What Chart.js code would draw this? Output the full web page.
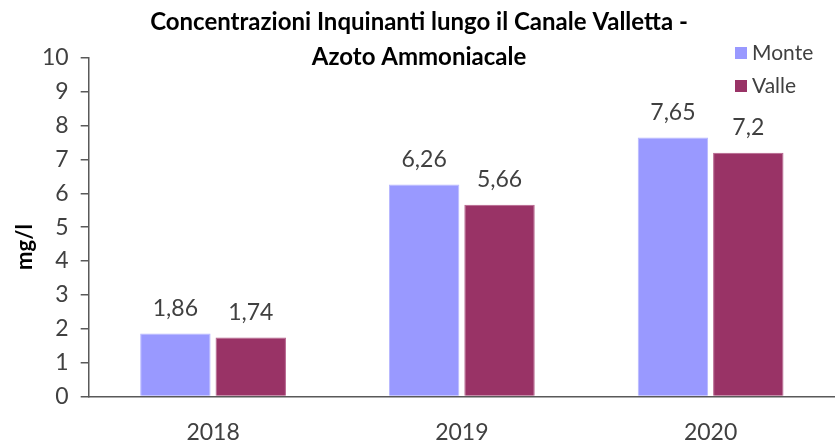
<!DOCTYPE html>
<html>
<head>
<meta charset="utf-8">
<script src="https://cdn.jsdelivr.net/npm/chart.js@4"></script>
<style>
  html, body { margin: 0; padding: 0; background: #fff; }
  #wrap { width: 835px; height: 441px; }
</style>
</head>
<body>
<div id="wrap"><canvas id="graphic"></canvas></div>
<script>
// DATI
const years = ['2018', '2019', '2020'];
const monte = [1.86, 6.26, 7.65];
const valle = [1.74, 5.66, 7.2];
const titleLines = ['Concentrazioni Inquinanti lungo il Canale Valletta -', 'Azoto Ammoniacale'];
const yTitle = 'mg/l';

const FONT = 'Lato';
const TEXT = '#404040';

// titolo, legenda, etichette
const extras = {
  id: 'extras',
  afterDraw(chart) {
    const ctx = chart.ctx;
    ctx.save();
    ctx.fillStyle = '#000';
    ctx.textAlign = 'center';
    ctx.textBaseline = 'middle';
    ctx.font = 'bold 24px ' + FONT;
    ctx.fillText(titleLines[0], 419, 22);
    ctx.fillText(titleLines[1], 419, 57);

    // asse y
    ctx.save();
    ctx.translate(25, 247);
    ctx.rotate(-Math.PI / 2);
    ctx.font = 'bold 22px ' + FONT;
    ctx.fillText(yTitle, 0, 0);
    ctx.restore();

    // legenda
    ctx.textAlign = 'left';
    ctx.font = '21px ' + FONT;
    chart.data.datasets.forEach((ds, i) => {
      const y = 53 + i * 33;
      ctx.fillStyle = ds.backgroundColor;
      ctx.fillRect(735, y - 6, 12, 12);
      ctx.fillStyle = TEXT;
      ctx.fillText(ds.label, 752, y);
    });

    // valori sulle barre
    ctx.textAlign = 'center';
    ctx.font = '23px ' + FONT;
    ctx.fillStyle = TEXT;
    chart.data.datasets.forEach((ds, i) => {
      chart.getDatasetMeta(i).data.forEach((bar, j) => {
        ctx.fillText(String(ds.data[j]).replace('.', ','), bar.x, bar.y - 25);
      });
    });
    ctx.restore();
  }
};

const data = {
  labels: years,
  datasets: [{
    label: 'Monte',
    data: monte,
    backgroundColor: '#9999FF',
    borderColor: '#b8b8ff',
    borderWidth: 1
  }, {
    label: 'Valle',
    data: valle,
    backgroundColor: '#993366',
    borderColor: '#b5608a',
    borderWidth: 1
  }]
};

const config = {
  type: 'bar',
  data,
  options: {
    responsive: true,
    maintainAspectRatio: false,
    animation: false,
    categoryPercentage: 0.606,
    barPercentage: 0.934,
    layout: {
      padding: { top: 58, left: 30, right: -6, bottom: -19 }
    },
    plugins: {
      legend: { display: false },
      tooltip: { enabled: false }
    },
    scales: {
      x: {
        grid: { display: false },
        border: { display: true, color: '#595959', width: 1.5 },
        ticks: { color: TEXT, font: { family: FONT, size: 23 }, padding: 14 }
      },
      y: {
        min: 0,
        max: 10,
        ticks: { stepSize: 1, color: TEXT, font: { family: FONT, size: 23 }, padding: 12 },
        grid: { drawOnChartArea: false, drawTicks: true, tickLength: 8, color: '#595959', lineWidth: 1.5 },
        border: { display: true, color: '#595959', width: 1.5 }
      }
    }
  },
  plugins: [extras]
};

const myGraphic = new Chart(document.getElementById('graphic'), config);
</script>
</body>
</html>
